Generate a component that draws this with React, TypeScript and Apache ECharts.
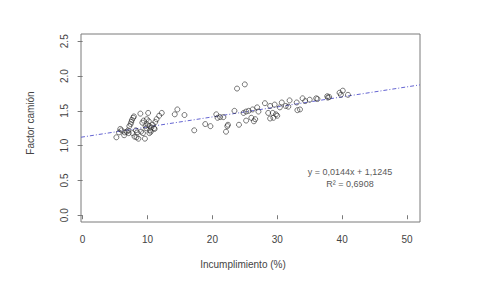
import React, { useEffect, useRef } from "react";
import * as echarts from "echarts";

const incumplimiento: number[] = [
  5.2, 5.6, 5.8, 6.0, 6.4, 6.5, 6.8, 7.0, 7.1, 7.2, 7.4, 7.5, 7.6, 7.8, 7.9, 7.7, 8.0, 8.3, 8.4, 8.6,
  8.2, 8.9, 9.0, 9.2, 9.4, 9.3, 9.6, 9.7, 9.8, 10.0, 10.1, 10.2, 10.3, 10.4, 10.5, 10.6, 10.8, 11.0,
  11.1, 11.2, 11.4, 11.8, 12.2, 9.9, 10.3,
  14.2, 14.6, 15.7, 17.2, 18.9, 19.7, 20.6, 20.8, 21.2, 21.7, 22.1, 22.3, 22.4, 23.4, 23.8, 24.1,
  25.0, 24.8, 25.2, 25.2, 25.6, 26.2, 26.4, 26.9, 27.1, 26.0, 26.6,
  28.1, 28.6, 28.9, 28.9, 29.3, 29.4, 29.6, 29.8, 30.0, 30.4, 30.7, 31.3, 31.7, 31.9, 33.0, 33.1,
  33.5, 33.9, 34.3, 35.0, 36.0, 36.2, 37.7, 37.8, 38.0, 39.6, 39.8, 40.1, 40.9,
];
const factorCamion: number[] = [
  1.12, 1.19, 1.24, 1.22, 1.15, 1.19, 1.2, 1.22, 1.18, 1.28, 1.31, 1.34, 1.37, 1.4, 1.42, 1.18, 1.13, 1.12, 1.19, 1.1,
  1.22, 1.46, 1.2, 1.33, 1.36, 1.18, 1.1, 1.28, 1.25, 1.3, 1.47, 1.35, 1.18, 1.22, 1.2, 1.26, 1.3, 1.25,
  1.24, 1.34, 1.38, 1.43, 1.47, 1.38, 1.28,
  1.45, 1.52, 1.44, 1.22, 1.31, 1.28, 1.45, 1.4, 1.41, 1.41, 1.2, 1.28, 1.3, 1.5, 1.82, 1.3,
  1.88, 1.47, 1.49, 1.36, 1.5, 1.52, 1.35, 1.55, 1.49, 1.4, 1.38,
  1.61, 1.47, 1.57, 1.39, 1.47, 1.4, 1.59, 1.45, 1.43, 1.55, 1.62, 1.57, 1.56, 1.65, 1.62, 1.51,
  1.52, 1.68, 1.64, 1.66, 1.68, 1.67, 1.71, 1.69, 1.7, 1.76, 1.73, 1.79, 1.73,
];

const xTicks: number[] = [0, 10, 20, 30, 40, 50];
const yTicks: number[] = [0, 0.5, 1, 1.5, 2, 2.5];
const slope = 0.0144;
const intercept = 1.1245;
const equationLines: string[] = ["y = 0,0144x + 1,1245", "R² = 0,6908"];
const xName = "Incumplimiento (%)";
const yName = "Factor camión";
const xRange: number[] = [-0.25, 52];
const yRange: number[] = [-0.097, 2.604];

export default function App() {
  const ref = useRef<HTMLDivElement>(null);
  useEffect(() => {
    if (!ref.current) return;
    const chart = echarts.init(ref.current, undefined, { renderer: "svg" });
    const points = incumplimiento.map((x, i) => [x, factorCamion[i]]);
    const lineData = xRange.map((x) => [x, intercept + slope * x]);
    chart.setOption({
      animation: false,
      backgroundColor: "#ffffff",
      grid: {
        left: 81,
        top: 34,
        right: 61,
        bottom: 60,
        show: true,
        borderColor: "#7a7a7a",
        borderWidth: 1,
        backgroundColor: "transparent",
      },
      xAxis: {
        type: "value",
        min: xRange[0],
        max: xRange[1],
        axisLine: { show: false },
        splitLine: { show: false },
        axisTick: {
          show: true,
          customValues: xTicks,
          length: 4,
          lineStyle: { color: "#7a7a7a" },
        },
        axisLabel: {
          customValues: xTicks,
          margin: 12,
          fontFamily: "Liberation Sans",
          fontSize: 10,
          color: "#444",
        },
      },
      yAxis: {
        type: "value",
        min: yRange[0],
        max: yRange[1],
        axisLine: { show: false },
        splitLine: { show: false },
        axisTick: {
          show: true,
          customValues: yTicks,
          length: 5,
          lineStyle: { color: "#7a7a7a" },
        },
        axisLabel: {
          customValues: yTicks,
          rotate: 90,
          margin: 12,
          fontFamily: "Liberation Sans",
          fontSize: 10,
          color: "#444",
          formatter: (v: number) => v.toFixed(1),
        },
      },
      series: [
        {
          type: "scatter",
          data: points,
          symbol: "circle",
          symbolSize: 5,
          itemStyle: { color: "rgba(0,0,0,0)", borderColor: "#2a2a2a", borderWidth: 0.8 },
          z: 3,
        },
        {
          type: "line",
          data: lineData,
          showSymbol: false,
          symbol: "none",
          lineStyle: { color: "#6464d2", width: 1, type: [4, 2, 1, 2] },
          z: 2,
        },
      ],
      graphic: [
        {
          type: "text",
          x: 30,
          y: 123,
          rotation: Math.PI / 2,
          style: {
            text: yName,
            fontFamily: "Liberation Sans",
            fontSize: 10,
            fill: "#444",
            align: "center",
            verticalAlign: "middle",
          },
        },
        {
          type: "text",
          x: 243,
          y: 264,
          style: {
            text: xName,
            fontFamily: "Liberation Sans",
            fontSize: 10,
            fill: "#444",
            align: "center",
            verticalAlign: "middle",
          },
        },
        ...equationLines.map((t, i) => ({
          type: "text",
          x: 350,
          y: 172 + i * 11.5,
          style: {
            text: t,
            fontFamily: "Liberation Sans",
            fontSize: 9,
            fill: "#595959",
            align: "center",
            verticalAlign: "middle",
          },
        })),
      ],
    });
    return () => chart.dispose();
  }, []);
  return (
    <div
      ref={ref}
      style={{ position: "fixed", left: 0, top: 0, width: 481, height: 282, background: "#fff" }}
    />
  );
}
